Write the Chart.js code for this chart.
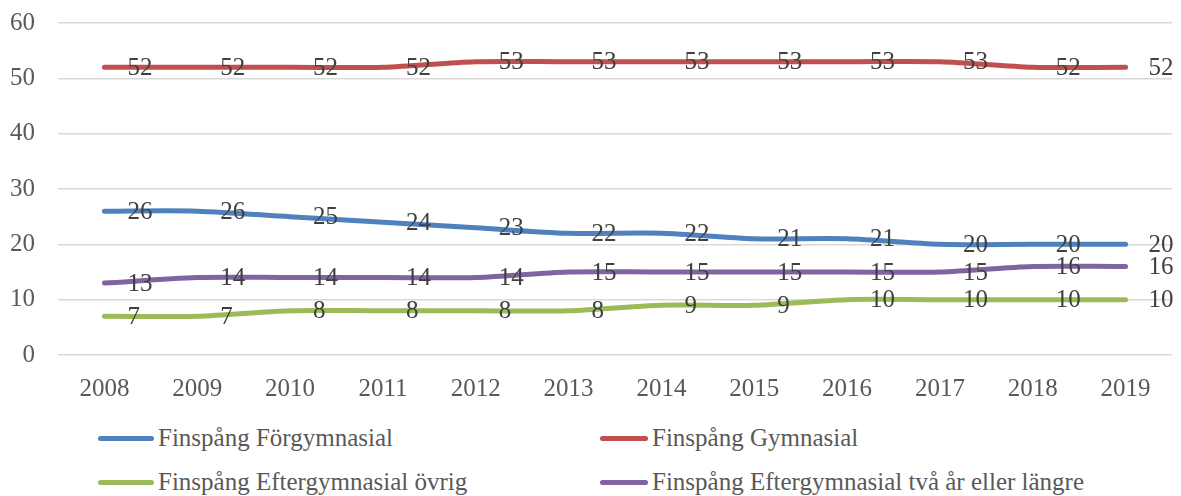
<!DOCTYPE html>
<html>
<head>
<meta charset="utf-8">
<script src="https://cdn.jsdelivr.net/npm/chart.js@4"></script>
<style>
  body { margin: 0; background: #fff; }
  #wrap { position: relative; width: 1181px; height: 496px; }
  #c { position: absolute; left: 0; top: 0; }
  .leg { position: absolute; font: 25px "Liberation Serif", serif; color: #595959; white-space: nowrap; line-height: 30px; }
  .leg span.ln { position: absolute; top: 13px; height: 5px; border-radius: 3px; }
</style>
</head>
<body>
<div id="wrap">
  <canvas id="c" width="1181" height="410"></canvas>
  <div id="legend"></div>
</div>
<script>
var years = ['2008','2009','2010','2011','2012','2013','2014','2015','2016','2017','2018','2019'];
var forgymnasial = [26,26,25,24,23,22,22,21,21,20,20,20];
var gymnasial = [52,52,52,52,53,53,53,53,53,53,52,52];
var eftergymOvrig = [7,7,8,8,8,8,9,9,10,10,10,10];
var eftergymTva = [13,14,14,14,14,15,15,15,15,15,16,16];
var yTicks = [0,10,20,30,40,50,60];

var seriesNames = ['Finspång Förgymnasial','Finspång Gymnasial','Finspång Eftergymnasial övrig','Finspång Eftergymnasial två år eller längre'];
var seriesColors = ['#4F81BD','#C0504D','#9BBB59','#8064A2'];
var seriesData = [forgymnasial, gymnasial, eftergymOvrig, eftergymTva];

var font = '"Liberation Serif", serif';

// draws value labels to the right of each point
var labelPlugin = {
  id: 'valueLabels',
  afterDatasetsDraw: function(chart) {
    var ctx = chart.ctx;
    ctx.save();
    ctx.font = '25px ' + font;
    ctx.fillStyle = '#404040';
    ctx.textAlign = 'left';
    ctx.textBaseline = 'middle';
    chart.data.datasets.forEach(function(ds, i) {
      var meta = chart.getDatasetMeta(i);
      meta.data.forEach(function(pt, j) {
        ctx.fillText(ds.data[j], pt.x + 23, pt.y + 1);
      });
    });
    ctx.restore();
  }
};

var datasets = seriesNames.map(function(name, i) {
  return {
    label: name,
    data: seriesData[i],
    borderColor: seriesColors[i],
    backgroundColor: seriesColors[i],
    borderWidth: 5,
    borderCapStyle: 'round',
    pointRadius: 0,
    tension: 0.3,
    fill: false
  };
});

new Chart(document.getElementById('c'), {
  type: 'line',
  data: { labels: years, datasets: datasets },
  options: {
    responsive: false,
    animation: false,
    layout: { padding: { left: 0, right: 9, top: 23, bottom: 0 } },
    plugins: { legend: { display: false }, tooltip: { enabled: false } },
    scales: {
      x: {
        offset: true,
        grid: { display: false },
        border: { display: false },
        ticks: { color: '#595959', font: { family: font, size: 25 }, padding: 11, maxRotation: 0 },
        afterFit: function(s) { s.height = 55; s.paddingLeft = 0; s.paddingRight = 0; }
      },
      y: {
        min: 0, max: 60,
        afterBuildTicks: function(s) { s.ticks = yTicks.map(function(v) { return { value: v }; }); },
        grid: { color: '#d9d9d9', lineWidth: 1.5, drawTicks: false },
        border: { display: false },
        ticks: { color: '#595959', font: { family: font, size: 25 }, padding: 23 },
        afterFit: function(s) { s.width = 58; s.paddingTop = 0; s.paddingBottom = 0; }
      }
    }
  },
  plugins: [labelPlugin]
});

// legend in two columns
var legPos = [
  { x: 98, w: 56, tx: 158, y: 423 },
  { x: 600, w: 48, tx: 652, y: 423 },
  { x: 98, w: 56, tx: 158, y: 467 },
  { x: 600, w: 48, tx: 652, y: 467 }
];
var legend = document.getElementById('legend');
seriesNames.forEach(function(name, i) {
  var p = legPos[i];
  var d = document.createElement('div');
  d.className = 'leg';
  d.style.left = p.x + 'px';
  d.style.top = p.y + 'px';
  d.innerHTML = '<span class="ln" style="left:0;width:' + p.w + 'px;background:' + seriesColors[i] + '"></span>' +
    '<span style="position:absolute;left:' + (p.tx - p.x) + 'px;top:0">' + name + '</span>';
  legend.appendChild(d);
});
</script>
</body>
</html>
